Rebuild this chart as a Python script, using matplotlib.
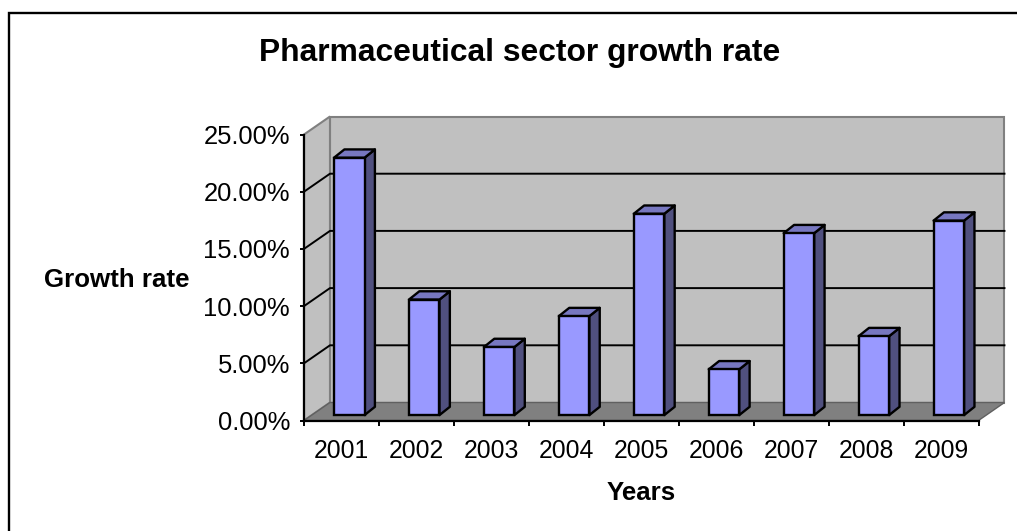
import matplotlib
matplotlib.use('Agg')
import matplotlib.pyplot as plt
from matplotlib.patches import Polygon, Rectangle

plt.rcParams['font.family'] = ['Liberation Sans']

years = ['2001', '2002', '2003', '2004', '2005', '2006', '2007', '2008', '2009']
growth = [22.5, 10.1, 5.95, 8.65, 17.6, 4.0, 15.9, 6.9, 17.0]
y_ticks = [0, 5, 10, 15, 20, 25]
y_labels = ['0.00%', '5.00%', '10.00%', '15.00%', '20.00%', '25.00%']

W, H = 1017, 531
fig = plt.figure(figsize=(W / 100, H / 100), dpi=100)

# white page with the chart frame running off the right and bottom edges
bg = fig.add_axes([0, 0, 1, 1])
bg.set_xlim(0, W)
bg.set_ylim(H, 0)
bg.axis('off')
bg.add_patch(Rectangle((9, 12.5), 1100, 600, fc='white', ec='black', lw=1.7))

# front plane of the fake 3d box
x0, x1, y0, y1 = 304, 978.5, 420.5, 134.5
ax = fig.add_axes([x0 / W, 1 - y0 / H, (x1 - x0) / W, (y0 - y1) / H])
ax.set_xlim(0, 9)
ax.set_ylim(0, 25)
ax.patch.set_alpha(0)

# depth of the box, in data units
dx = 26 / 75
dy = 18 / (286 / 25)

wall = '#c0c0c0'
edge = '#808080'
ax.add_patch(Polygon([(dx, dy), (9 + dx, dy), (9 + dx, 25 + dy), (dx, 25 + dy)], fc=wall, ec=edge, lw=1.5, clip_on=False, zorder=1))
ax.add_patch(Polygon([(0, 0), (dx, dy), (dx, 25 + dy), (0, 25)], fc=wall, ec=edge, lw=1.5, clip_on=False, zorder=1))
ax.add_patch(Polygon([(0, 0), (9, 0), (9 + dx, dy), (dx, dy)], fc=edge, ec='#606060', lw=1, clip_on=False, zorder=1.5))

for t in y_ticks[1:-1]:
    ax.plot([0, dx, 9 + dx], [t, t + dy, t + dy], color='black', lw=1.4, clip_on=False, zorder=2)

# bars sit part way into the depth
front = 0.30
width = 0.407
ddx = dx * 0.4
ddy = dy * 0.46
for i, v in enumerate(growth):
    l = i + 0.5 - width / 2 + dx * front
    r = l + width
    b = dy * front
    t = v + b
    ax.add_patch(Polygon([(r, b), (r + ddx, b + ddy), (r + ddx, t + ddy), (r, t)], fc='#50507f', ec='black', lw=1.7, clip_on=False, zorder=3, joinstyle='round'))
    ax.add_patch(Polygon([(l, t), (r, t), (r + ddx, t + ddy), (l + ddx, t + ddy)], fc='#7777c0', ec='black', lw=1.7, clip_on=False, zorder=3, joinstyle='round'))
    ax.add_patch(Rectangle((l, b), width, v, fc='#9999ff', ec='black', lw=1.7, clip_on=False, zorder=4))

for s in ['top', 'right']:
    ax.spines[s].set_visible(False)
for s in ['left', 'bottom']:
    ax.spines[s].set_linewidth(1.6)
    ax.spines[s].set_zorder(5)

ax.set_yticks(y_ticks)
ax.set_yticklabels(y_labels, fontsize=18.4)
ax.set_xticks(range(10))
ax.set_xticklabels([])
ax.set_xticks([i + 0.5 for i in range(9)], minor=True)
ax.set_xticklabels(years, minor=True, fontsize=17.8)
ax.tick_params(axis='x', which='major', length=3.5, width=1.4, direction='out')
ax.tick_params(axis='x', which='minor', length=0, pad=13)
ax.tick_params(axis='y', length=3, width=1.4, direction='out', pad=7)

bg.text(519.5, 61, 'Pharmaceutical sector growth rate', fontsize=22.9, fontweight='bold', ha='center', va='baseline')
bg.text(117, 287, 'Growth rate', fontsize=18.6, fontweight='bold', ha='center', va='baseline')
bg.text(641, 500.5, 'Years', fontsize=18.6, fontweight='bold', ha='center', va='baseline')

fig.savefig('out.png', dpi=100)
